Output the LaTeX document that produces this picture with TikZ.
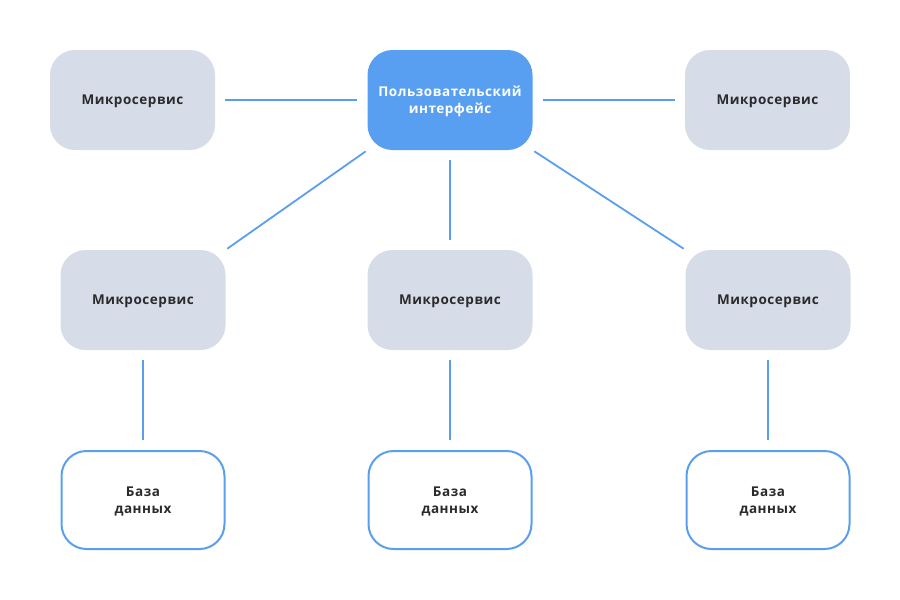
\documentclass[tikz,border=0pt]{standalone}
\usepackage{fontspec}
\setmainfont{Open Sans}[LetterSpace=4]
\usetikzlibrary{positioning}
\definecolor{msfill}{HTML}{D6DDE9}
\definecolor{uifill}{HTML}{589FF1}
\definecolor{lineblue}{HTML}{5A9FEE}
\definecolor{txt}{HTML}{2B2B2B}
\begin{document}
\begin{tikzpicture}[x=1pt,y=-1pt,
  box/.style={rounded corners=25pt, minimum width=165pt, minimum height=100pt, inner sep=0pt, align=center, text depth=-2pt, font=\bfseries\fontsize{13.5}{17}\selectfont},
  ms/.style={box, fill=msfill, text=txt},
  ui/.style={box, fill=uifill, text=white},
  db/.style={box, draw=lineblue, line width=2pt, minimum width=163pt, minimum height=98pt, fill=white, text=txt},
  link/.style={draw=lineblue, line width=1.8pt, shorten <=10pt, shorten >=10pt},
  dlink/.style={draw=lineblue, line width=1.8pt, shorten <=2pt, shorten >=2pt}]
\useasboundingbox (0,0) rectangle (900,600);
\node[ms] (m1) at (132.5,100) {Микросервис};
\node[ui] (ui) at (450,100) {Пользовательский\\интерфейс};
\node[ms] (m2) at (767.5,100) {Микросервис};
\node[ms] (m3) at (143,300) {Микросервис};
\node[ms] (m4) at (450,300) {Микросервис};
\node[ms] (m5) at (768,300) {Микросервис};
\node[db] (d1) at (143,500) {База\\данных};
\node[db] (d2) at (450,500) {База\\данных};
\node[db] (d3) at (768,500) {База\\данных};
\draw[link] (m1) -- (ui);
\draw[link] (ui) -- (m2);
\draw[link] (ui) -- (m4);
\draw[dlink] (ui.south west) -- (m3.north east);
\draw[dlink] (ui.south east) -- (m5.north west);
\draw[link] (m3) -- (d1);
\draw[link] (m4) -- (d2);
\draw[link] (m5) -- (d3);
\end{tikzpicture}
\end{document}
